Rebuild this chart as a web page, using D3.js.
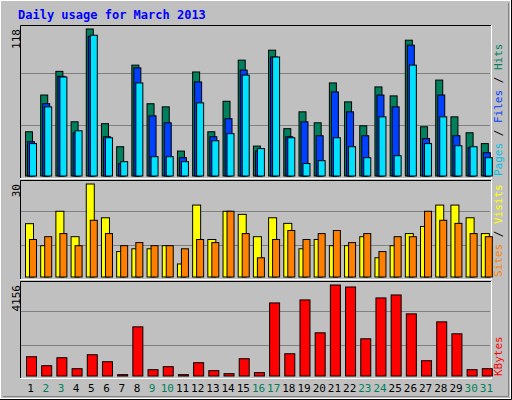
<!DOCTYPE html><html><head><script src="https://cdn.jsdelivr.net/npm/d3@7"></script>
<style>body{margin:0;background:#fff}</style></head><body><svg id="c" width="512" height="400"></svg>
<script>
const days=d3.range(1,32);
const weekend=[2,3,9,10,16,17,23,24,30,31];
const hits=[35.5,65,84,43.5,118,42,23.5,89,58,55.5,20,83.5,35.5,60,93,24,101,38,51.5,42.7,74.7,59.5,40.3,71.5,64.3,109,39.5,77,47.5,34.7,26];
const files=[27.5,58,80,34.7,112,31.5,10,86.8,48.3,42.7,14.7,75.5,31.5,46,85,20,95.5,31.5,43.5,32.3,67.5,51.5,32.3,65,55.5,105,30,65,32.3,22.7,18.7];
const pages=[26,55.5,79.5,36.3,113,30.7,11.5,74.7,15.5,15.5,11.5,58.7,28.3,34,81,22,95.5,30.7,10,12.3,30.7,23.5,14.7,47.5,16.3,89,26,47.5,24.3,23.5,14.7];
const visits=[17.2,10.1,21.2,13,30,19.1,8.2,9.1,9.1,10.1,4.2,23.2,12.1,21.2,20.2,13,19.1,17.3,9.1,12.1,10.1,10.1,13,6.2,10.1,14,16.3,23.2,23.2,19.1,14];
const sites=[12.1,13,14,10.1,18.3,14,10.1,11.1,10.1,10.1,9.1,12.1,11.1,21.2,14,6.2,12.1,15,12.1,14,15,11.1,14,8.2,13,13,21.2,18.3,17.3,14,13];
const kbytes=[880,470,834,334,971,652,61,2245,288,425,61,607,243,106,789,152,3337,1016,3474,1972,4156,4065,1699,3565,3701,2837,698,2473,1927,288,334];
const svg=d3.select("#c");
const F="DejaVu Sans Mono, monospace";
svg.append("rect").attr("width",512).attr("height",400).attr("fill","#c0c0c0");
svg.append("rect").attr("x",0.5).attr("y",0.5).attr("width",510).attr("height",398).attr("fill","none").attr("stroke","#fff");
svg.append("path").attr("d","M511.5,0V399.5H0").attr("stroke","#000").attr("fill","none");
svg.append("path").attr("d","M508.5,3V396.5H3").attr("stroke","#808080").attr("fill","none");
svg.append("text").attr("x",18).attr("y",19).attr("font-family",F).attr("font-weight","bold").attr("font-size",12).attr("fill","#0000ff").text("Daily usage for March 2013");
const x=d3.scaleBand().domain(days).range([20,491]).paddingInner(0);
function panel(y0,y1,max,label,series,right){
  svg.append("rect").attr("x",20).attr("y",y0).attr("width",471).attr("height",y1-y0).attr("fill","#c0c0c0");
  const y=d3.scaleLinear().domain([0,max]).range([y1-2,y0+4]);
  const h=y1-y0;
  [1/3,2/3].forEach(f=>svg.append("line").attr("x1",21).attr("x2",490).attr("y1",Math.round(y1-h*f*1.03)+0.5).attr("y2",Math.round(y1-h*f*1.03)+0.5).attr("stroke","#808080"));
  svg.append("path").attr("d",`M20.5,${y1}V${y0+0.5}H491`).attr("stroke","#000").attr("fill","none");
  svg.append("path").attr("d",`M491.5,${y0}V${y1+0.5}H20`).attr("stroke","#fff").attr("fill","none");
  series.forEach(s=>{
    svg.append("g").selectAll("rect").data(s.data).join("rect")
      .attr("x",(d,i)=>x(days[i])+s.off).attr("width",s.w)
      .attr("y",d=>y(d)).attr("height",d=>Math.max(1,y(0)-y(d)))
      .attr("fill",s.c).attr("stroke","#000").attr("stroke-width",1);
  });
  const cy=(y0+y1)/2;
  svg.append("text").attr("transform",`translate(20,${y0+4}) rotate(-90)`).attr("text-anchor","end").attr("font-family",F).attr("font-size",11).attr("fill","#000").text(label);
  const t=svg.append("text").attr("transform",`translate(502,${y1-2}) rotate(-90)`).attr("font-family",F).attr("font-size",11);
  right.forEach(r=>t.append("tspan").attr("fill",r[1]).text(r[0]));
}
panel(25,178,118,"118",[
 {data:hits,c:"#00805c",off:5.5,w:7},{data:files,c:"#0040ff",off:7.5,w:7},{data:pages,c:"#00e0ff",off:9.5,w:7}],
 [["Pages","#00c0e0"],[" / ","#000"],["Files","#0040ff"],[" / ","#000"],["Hits","#00805c"]]);
panel(180,279,30,"30",[
 {data:visits,c:"#ffff00",off:5.5,w:8},{data:sites,c:"#ff8000",off:9.5,w:7}],
 [["Sites","#ff8000"],[" / ","#000"],["Visits","#ffff00"]]);
panel(281,378,4156,"4156",[{data:kbytes,c:"#ff0000",off:6.5,w:10}],[["KBytes","#ff0000"]]);
svg.append("g").selectAll("text").data(days).join("text")
 .attr("x",d=>x(d)+x.bandwidth()/2+3).attr("y",392).attr("text-anchor","middle")
 .attr("font-family",F).attr("font-size",11).attr("fill",d=>weekend.includes(d)?"#00805c":"#000").text(d=>d);
</script></body></html>
